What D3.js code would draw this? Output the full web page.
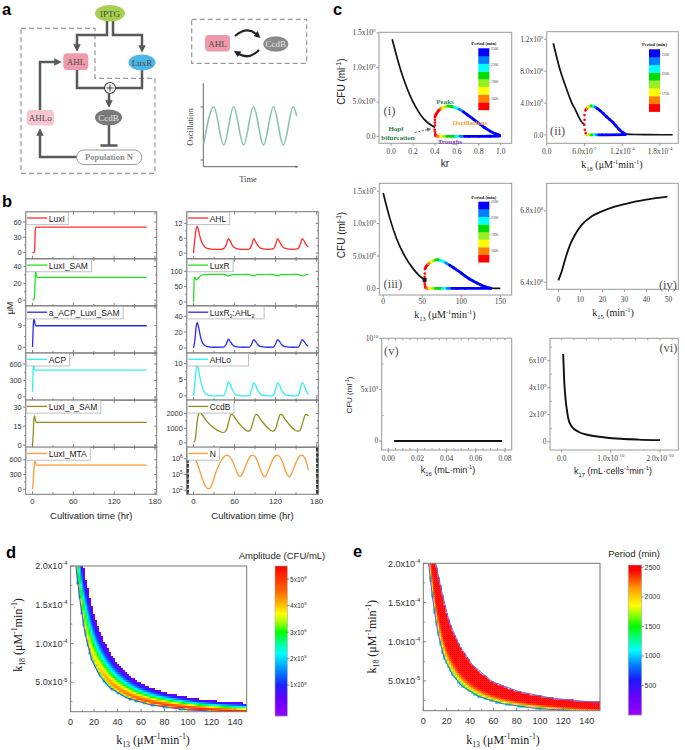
<!DOCTYPE html>
<html><head><meta charset="utf-8">
<script src="https://cdn.jsdelivr.net/npm/d3@7"></script>
<style>body{margin:0;background:#fff}svg{display:block}</style>
</head><body><svg id="fig" width="685" height="750"></svg>
<script>
// ================= DATA =================
// panel a schematic oscillation (schematic time units, relative level)
const oscT = [0, 0.5, 1, 1.5, 2, 2.5, 3, 3.5, 4, 4.5, 4.67];
const oscV = [0.04, 1, 0, 1, 0, 1, 0, 1, 0, 1, 0.75];

// panel b : [time (hr), value]
const bTimeTicks = [0, 30, 60, 90, 120, 150, 180];
const bTimeLabels = [0, 60, 120, 180];
const luxI = [[0,0],[2,0.5],[3,3],[3.6,25],[4.2,47],[5,50],[168,50]];
const luxI_SAM = [[0,0],[2,1],[3,5],[3.8,22],[4.5,36],[5.5,30],[7,27],[168,27]];
const aACP_LuxI_SAM = [[0,0],[0.6,5],[1.5,10.5],[2.5,12],[3.5,10],[5,9],[168,9]];
const ACP = [[0,90],[0.6,350],[1.2,630],[1.8,640],[2.6,510],[4,490],[168,490]];
const luxI_a_SAM = [[0,0],[1,8],[2,20],[3,23],[4,20.5],[5.5,18],[168,18]];
const luxI_MTA = [[0,0],[1,150],[2,400],[3,560],[4,570],[5,515],[7,490],[168,490]];
const AHL = [[0,0],[2,6],[4,10],[5.5,10.8],[7,9.5],[10,6],[14,3.3],[20,1.9],[30,1.5],[40,1.5],[45,2],[48,3.5],[51,5.8],[53,5.2],[57,3],[62,1.9],[70,1.5],[80,1.5],[83,2],[86,4],[88,5.8],[90,5],[94,3],[99,1.9],[110,1.5],[117,1.8],[120,3.5],[123,5.8],[125,5],[129,3],[134,1.9],[145,1.5],[153,1.8],[156,3.5],[159,5.8],[161,5.2],[165,3.2],[168,2.5]];
const LuxR = [[0,0],[0.5,40],[1,82],[2,80],[4,72],[6,75],[10,85],[15,89],[25,90],[45,90],[51,85],[56,89],[80,90],[88,85],[93,89],[115,90],[123,85],[128,89],[152,90],[160,85],[165,89],[168,90]];
const LuxR2AHL2 = [[0,0],[2,10],[4,28],[5.5,32],[7,28],[10,15],[14,5],[20,1.5],[30,0.8],[44,1],[48,5],[51,11],[53,9],[57,4],[62,1.5],[72,0.8],[82,1],[85,5],[88,10.5],[90,9],[94,4],[99,1.5],[110,0.8],[117,1],[120,5],[123,10.5],[125,9],[129,4],[134,1.5],[145,0.8],[153,1],[156,5],[159,10.5],[161,9],[165,4],[168,2]];
const AHLo = [[0,0],[2,4],[4,8.5],[5.5,9.5],[7,8.5],[10,5],[14,2],[20,0.3],[30,0],[44,0.1],[48,2],[51,4.3],[53,3.8],[57,1.8],[62,0.4],[72,0],[82,0.1],[85,2],[88,4.1],[90,3.6],[94,1.7],[99,0.4],[110,0],[117,0.1],[120,2],[123,4.1],[125,3.6],[129,1.7],[134,0.4],[145,0],[153,0.1],[156,2],[159,4.1],[161,3.7],[165,1.5],[168,0.5]];
const CcdB = [[0,50],[1.5,80],[3,400],[5,1300],[7,1900],[9,2080],[12,1950],[18,1550],[25,1200],[32,950],[38,780],[43,710],[46,740],[49,1000],[52,1550],[55,1930],[57,1920],[62,1600],[68,1250],[74,950],[79,800],[82,820],[85,1100],[88,1600],[91,1940],[93,1920],[98,1600],[104,1250],[110,960],[115,800],[118,820],[121,1100],[124,1600],[127,1930],[129,1930],[134,1600],[140,1250],[146,960],[152,800],[155,820],[158,1100],[161,1600],[164,1930],[166,1920],[168,1820]];
const popN = [[0,2.0e8],[3,6.3e7],[7,3.2e6],[12,3.2e4],[17,800],[21,200],[24,250],[28,3200],[33,3.2e5],[39,2e7],[44,2e8],[49,5e8],[53,2.5e8],[58,2e7],[62,8e5],[66,6.3e4],[68,4e4],[70,6.3e4],[74,8e5],[79,3.2e7],[84,4e8],[86,5e8],[90,2.5e8],[94,2.5e7],[98,8e5],[102,6.3e4],[104,4e4],[106,6.3e4],[110,1e6],[115,4e7],[120,4e8],[122,5e8],[126,2.5e8],[130,2.5e7],[134,8e5],[138,6.3e4],[140,4e4],[142,6.3e4],[146,1e6],[151,4e7],[156,4e8],[158,5e8],[162,2e8],[165,2.5e7],[168,6.3e5]];

// panel c : bifurcation data [param, CFU/ml] and oscillation branches [param, CFU/ml, period(min)]
const stable1 = [[0.01,1.41e9],[0.05,1.17e9],[0.1,0.9e9],[0.15,0.68e9],[0.2,0.5e9],[0.25,0.36e9],[0.3,0.25e9],[0.35,0.18e9],[0.4,0.13e9]];
const peaks1 = [[0.40,0.28e9,1480],[0.41,0.32e9,1490],[0.43,0.37e9,1510],[0.45,0.40e9,1540],[0.47,0.42e9,1620],[0.49,0.43e9,1750],[0.52,0.44e9,1880],[0.55,0.435e9,2000],[0.58,0.42e9,2060],[0.62,0.395e9,2160],[0.66,0.355e9,2300],[0.70,0.31e9,2400],[0.75,0.25e9,2450],[0.80,0.19e9,2470],[0.85,0.13e9,2480],[0.90,0.08e9,2490],[0.95,0.04e9,2500],[0.99,0.02e9,2500]];
const troughs1 = [[0.405,0.012e9,1480],[0.42,0.004e9,1500],[0.45,0.002e9,1580],[0.48,0.001e9,1700],[0.51,0.001e9,1850],[0.55,0.001e9,1990],[0.59,0.001e9,2080],[0.63,0.001e9,2180],[0.67,0.001e9,2300],[0.71,0.001e9,2400],[0.80,0.001e9,2450],[0.90,0.002e9,2490],[0.99,0.003e9,2500]];
const hopf1 = [[0.40,0.16e9],[0.40,0.20e9],[0.40,0.24e9],[0.398,0.10e9],[0.40,0.07e9],[0.402,0.04e9],[0.405,0.02e9]];
const stable2 = [[1.05e-5,1.15e9],[2e-5,0.85e9],[3e-5,0.61e9],[4e-5,0.4e9],[4.6e-5,0.31e9],[5e-5,0.24e9],[5.5e-5,0.17e9],[6e-5,0.125e9]];
const stable2b = [[1.25e-4,0.012e9],[1.4e-4,0.006e9],[1.6e-4,0.004e9],[2.0e-4,0.003e9]];
const peaks2 = [[6.16e-5,0.31e9,1480],[6.4e-5,0.335e9,1500],[6.6e-5,0.35e9,1600],[6.85e-5,0.36e9,1720],[7.1e-5,0.365e9,1840],[7.4e-5,0.36e9,1960],[7.7e-5,0.35e9,2080],[8.0e-5,0.335e9,2200],[8.4e-5,0.31e9,2300],[9e-5,0.27e9,2350],[9.5e-5,0.23e9,2370],[1.0e-4,0.195e9,2370],[1.05e-4,0.16e9,2370],[1.1e-4,0.115e9,2370],[1.15e-4,0.07e9,2370],[1.2e-4,0.035e9,2370],[1.25e-4,0.012e9,2370]];
const troughs2 = [[6.3e-5,0.012e9,1480],[6.5e-5,0.004e9,1560],[6.8e-5,0.002e9,1700],[7.1e-5,0.002e9,1820],[7.5e-5,0.002e9,1950],[7.9e-5,0.002e9,2080],[8.3e-5,0.002e9,2200],[8.8e-5,0.002e9,2300],[9.5e-5,0.002e9,2370],[1.25e-4,0.004e9,2370]];
const hopf2 = [[6.0e-5,0.25e9],[6.02e-5,0.19e9],[5.98e-5,0.13e9],[6.05e-5,0.065e9],[6.2e-5,0.025e9]];
const stable3 = [[0,1.47e9],[8.5,1.08e9],[17,0.77e9],[28,0.49e9],[38,0.31e9],[46,0.2e9],[53,0.135e9]];
const stable3b = [[138,0.004e9],[144,0.002e9],[150,0.001e9]];
const peaks3 = [[53.5,0.3e9,1450],[55,0.34e9,1480],[58,0.38e9,1520],[61,0.41e9,1600],[64,0.425e9,1750],[67,0.44e9,1880],[70,0.44e9,2000],[73,0.435e9,2050],[76,0.42e9,2120],[80,0.395e9,2200],[85,0.36e9,2300],[90,0.32e9,2400],[95,0.28e9,2450],[100,0.235e9,2480],[105,0.19e9,2490],[110,0.15e9,2500],[115,0.115e9,2500],[120,0.085e9,2500],[125,0.055e9,2500],[130,0.03e9,2500],[135,0.01e9,2500],[138,0.004e9,2500]];
const troughs3 = [[54,0.012e9,1450],[56,0.004e9,1500],[59,0.002e9,1600],[63,0.002e9,1740],[67,0.002e9,1880],[71,0.002e9,2000],[76,0.002e9,2050],[82,0.002e9,2150],[88,0.002e9,2280],[95,0.002e9,2400],[105,0.002e9,2480],[138,0.003e9,2500]];
const hopf3 = [[53,0.18e9],[53.3,0.23e9],[53,0.1e9],[53.3,0.065e9],[53.8,0.035e9]];
const curve4 = [[0,6.41e8],[1.5,6.46e8],[3,6.525e8],[5.3,6.609e8],[7.5,6.665e8],[10.5,6.72e8],[15,6.768e8],[19.5,6.796e8],[25.6,6.824e8],[33,6.847e8],[42,6.867e8],[49.6,6.88e8]];
const curve5 = [[0.004,0],[0.078,0]];
const curve6 = [[0.03e-10,6.5e9],[0.05e-10,4.6e9],[0.08e-10,3.1e9],[0.1e-10,2.5e9],[0.135e-10,1.7e9],[0.2e-10,1.15e9],[0.34e-10,0.74e9],[0.54e-10,0.5e9],[0.88e-10,0.32e9],[1.2e-10,0.22e9],[1.56e-10,0.16e9],[2.0e-10,0.12e9]];
const periodColors = ["#ff0000","#ff8000","#ffff00","#99ee22","#00dd00","#00ffff","#0080ff","#0000ff"];

// panels d & e : oscillation region boundaries [k13, k18], profiles across the band
const lowerBound = [[4.5,2.0e-4],[7.9,1.56e-4],[12.2,1.135e-4],[17.9,7.9e-5],[24.9,5.8e-5],[33.4,4.3e-5],[47.6,3.0e-5],[67.5,2.1e-5],[95.8,1.5e-5],[150,0.97e-5]];
const upperBound = [[10.7,2.0e-4],[15,1.69e-4],[22.1,1.26e-4],[30.6,9.6e-5],[42,7.06e-5],[59,4.92e-5],[81.7,3.64e-5],[110,2.8e-5],[138,2.4e-5],[150,2.3e-5]];
const ampAcross = [[0,0.35],[0.03,0.52],[0.08,0.75],[0.15,0.92],[0.22,1.0],[0.32,0.94],[0.45,0.8],[0.6,0.58],[0.75,0.36],[0.9,0.16],[1,0.05]];
const ampPeakAlong = [[5,3.1e8],[15,3.7e8],[30,4.2e8],[60,4.7e8],[100,5.1e8],[150,5.4e8]];
const periodAcross = [[0,900],[0.03,1300],[0.08,1600],[0.14,1850],[0.22,2100],[0.32,2300],[0.45,2450],[0.6,2520],[1,2540]];
const ampStops = [[-0.17e8,"#9400ff"],[0.5e8,"#6000ff"],[1.0e8,"#2020ff"],[1.5e8,"#0080ff"],[2.2e8,"#00ffff"],[2.6e8,"#00ff90"],[3.0e8,"#00ff00"],[3.4e8,"#b0ff00"],[3.7e8,"#ffff00"],[4.1e8,"#ffb000"],[4.6e8,"#ff6000"],[5.5e8,"#ff0000"]];
const periodStops = [[0,"#9900ff"],[300,"#6a00ff"],[600,"#1a1aff"],[850,"#0080ff"],[1100,"#00ffff"],[1500,"#00ff00"],[1850,"#ffff00"],[2150,"#ff9900"],[2450,"#ff0000"],[2540,"#ff0000"]];
const deXTicks = [0,20,40,60,80,100,120,140];
const deYTicks = [[5e-5,"5.0x10^{-5}"],[1e-4,"1.0x10^{-4}"],[1.5e-4,"1.5x10^{-4}"],[2e-4,"2.0x10^{-4}"]];
const ampBarTicks = [[1e8,"1x10^{8}"],[2e8,"2x10^{8}"],[3e8,"3x10^{8}"],[4e8,"4x10^{8}"],[5e8,"5x10^{8}"]];
const periodBarTicks = [[500,"500"],[1000,"1000"],[1500,"1500"],[2000,"2000"],[2500,"2500"]];

// ================= DRAWING =================
const svg = d3.select("#fig");
const SANS = "'Liberation Sans',Arial,Helvetica,sans-serif";
const SERIF = "'Liberation Serif','Times New Roman',Times,serif";
const defs = svg.append("defs");
let clipN = 0;
function clip(x0,y0,x1,y1){const id="cp"+(clipN++);defs.append("clipPath").attr("id",id).append("rect").attr("x",x0).attr("y",y0).attr("width",x1-x0).attr("height",y1-y0);return `url(#${id})`;}
function rich(g,str,o){
  const fs=o.size;
  const t=g.append("text").attr("x",o.x).attr("y",o.y).attr("font-size",fs).attr("font-family",o.family||SANS)
    .attr("text-anchor",o.anchor||"start").attr("fill",o.fill||"#222");
  if(o.weight) t.attr("font-weight",o.weight);
  if(o.rotate) t.attr("transform",`rotate(${o.rotate},${o.x},${o.y})`);
  const parts=str.split(/(\^\{[^}]*\}|_\{[^}]*\})/).filter(s=>s.length);
  let shift=0;
  parts.forEach(p=>{
    let txt=p,target=0,sz=null;
    if(p.startsWith("^{")){txt=p.slice(2,-1);target=-fs*0.42;sz=fs*0.65;}
    else if(p.startsWith("_{")){txt=p.slice(2,-1);target=fs*0.28;sz=fs*0.65;}
    const ts=t.append("tspan").text(txt).attr("dy",target-shift);
    if(sz) ts.attr("font-size",sz);
    shift=target;
  });
  return t;
}
function line(g,x1,y1,x2,y2,stroke,w){return g.append("line").attr("x1",x1).attr("y1",y1).attr("x2",x2).attr("y2",y2).attr("stroke",stroke).attr("stroke-width",w||1);}

// panel letters
[["a",2,15],["b",2,207],["c",333,15],["d",6,558],["e",353,557]].forEach(([l,x,y])=>
  svg.append("text").attr("x",x).attr("y",y).attr("font-family",SANS).attr("font-weight","bold").attr("font-size",16.5).text(l));

// ---------- Panel a ----------
(function(){
  const g=svg.append("g");
  const mk=(id,col)=>defs.append("marker").attr("id",id).attr("viewBox","0 0 10 10").attr("refX",1).attr("refY",5)
    .attr("markerWidth",3).attr("markerHeight",3).attr("orient","auto").append("path").attr("d","M0,0L10,5L0,10z").attr("fill",col);
  mk("arrG","#595959"); mk("arrK","#222");
  g.append("path").attr("d","M21,28.3H95V78.3H155V173.3H21Z").attr("fill","none").attr("stroke","#999").attr("stroke-width",1.2).attr("stroke-dasharray","5,3");
  const gl=(d,m)=>g.append("path").attr("d",d).attr("fill","none").attr("stroke","#595959").attr("stroke-width",2.5).attr("marker-end",m?"url(#arrG)":null);
  gl("M107,21V35H77V45",1); gl("M113,21V35H142V46",1);
  gl("M77,70V88H104",0); gl("M142,70V88H116",0);
  gl("M109,93.5V101",1);
  gl("M109,125V145",0); gl("M100.5,145.5H117.5",0);
  gl("M77,157H40V135",1); gl("M40,110V62H55",1);
  g.append("ellipse").attr("cx",110).attr("cy",13.3).attr("rx",15).attr("ry",8.3).attr("fill","#a6cf4f");
  g.append("rect").attr("x",63.3).attr("y",53.3).attr("width",25).attr("height",16.7).attr("rx",4).attr("fill","#ef9aab");
  g.append("ellipse").attr("cx",142).attr("cy",62.5).attr("rx",13.5).attr("ry",8).attr("fill","#4db5e6");
  g.append("circle").attr("cx",110).attr("cy",88).attr("r",5.5).attr("fill","#fff").attr("stroke","#444").attr("stroke-width",1.2);
  line(g,106.5,88,113.5,88,"#444",1.1); line(g,110,84.5,110,91.5,"#444",1.1);
  g.append("ellipse").attr("cx",108.5).attr("cy",117.5).attr("rx",13.5).attr("ry",8).attr("fill","#7a7a7a");
  g.append("rect").attr("x",26.7).attr("y",110).attr("width",27.3).attr("height",15.5).attr("rx",4).attr("fill","#f7c6cf");
  g.append("rect").attr("x",76.7).attr("y",150).attr("width",65).attr("height",14.5).attr("rx",7).attr("fill","#fff").attr("stroke","#9a9a9a").attr("stroke-width",1);
  const t=(s,x,y,o={})=>g.append("text").attr("x",x).attr("y",y).attr("text-anchor","middle").attr("font-family",SERIF)
    .attr("font-size",o.size||9).attr("fill",o.fill||"#4a4a4a").attr("font-weight",o.w||null).text(s);
  t("IPTG",110,16.5); t("AHL",76,64.8); t("LuxR",142,65.7); t("CcdB",108.5,120.8,{fill:"#e6e6e6"});
  t("AHLo",40.3,121); t("Population N",109,160.3,{fill:"#8a8a8a",w:"bold",size:8.5});
  // right schematic
  g.append("rect").attr("x",191.7).attr("y",19.3).attr("width",115).attr("height",44).attr("fill","none").attr("stroke","#999").attr("stroke-width",1.2).attr("stroke-dasharray","5,3");
  g.append("rect").attr("x",205).attr("y",35).attr("width",25).attr("height",16.5).attr("rx",4).attr("fill","#ef9aab");
  g.append("ellipse").attr("cx",275.8).attr("cy",44).attr("rx",12.5).attr("ry",7.8).attr("fill","#8a8a8a");
  t("AHL",217.5,46.5); t("CcdB",275.8,47.3,{fill:"#e6e6e6"});
  g.append("path").attr("d","M235,36Q247,26 256,34").attr("fill","none").attr("stroke","#222").attr("stroke-width",2.2).attr("marker-end","url(#arrK)");
  g.append("path").attr("d","M259,50Q249,60 239,54").attr("fill","none").attr("stroke","#222").attr("stroke-width",2.2).attr("marker-end","url(#arrK)");
  // oscillation sketch
  const xo=d3.scaleLinear().domain([0,4.67]).range([203.8,296.7]);
  const yo=d3.scaleLinear().domain([0,1]).range([145,106.7]);
  line(g,203.3,83.3,203.3,166.7,"#666",1); line(g,203.3,166.7,296.7,166.7,"#666",1);
  g.append("path").attr("d","M298.5,166.7l-3,-1.3v2.6z").attr("fill","#666");
  line(g,200.5,107,203.3,107,"#666",1); line(g,200.5,160,203.3,160,"#666",1);
  g.append("path").datum(d3.zip(oscT,oscV)).attr("fill","none").attr("stroke","#86c4ad").attr("stroke-width",1.6)
    .attr("d",d3.line().x(d=>xo(d[0])).y(d=>yo(d[1])).curve(d3.curveMonotoneX));
  g.append("text").attr("transform","rotate(-90,193,127)").attr("x",193).attr("y",127).attr("text-anchor","middle").attr("font-family",SERIF).attr("font-size",8.5).attr("fill","#444").text("Oscillation");
  t("Time",248,182,{size:8.5,fill:"#444"});
})();

// ---------- Panel b ----------
const xL=d3.scaleLinear().domain([-10,182.5]).range([25.7,156.7]);
const xR=d3.scaleLinear().domain([-10,182.5]).range([186.7,318.3]);
const B_TOP=211.7, B_H=47.1;
const bLeft=[
 {name:"LuxI",color:"#ff2a2a",data:luxI,domain:[-12,80],ticks:[0,30,60]},
 {name:"LuxI_SAM",color:"#22e022",data:luxI_SAM,domain:[-6.7,49],ticks:[0,20,40]},
 {name:"a_ACP_LuxI_SAM",color:"#2a2aee",data:aACP_LuxI_SAM,domain:[-2.4,17.3],ticks:[0,9]},
 {name:"ACP",color:"#30f0f0",data:ACP,domain:[-61,803],ticks:[0,300,600]},
 {name:"LuxI_a_SAM",color:"#8f8f1f",data:luxI_a_SAM,domain:[-1.6,35.5],ticks:[0,15,30]},
 {name:"LuxI_MTA",color:"#ff9a30",data:luxI_MTA,domain:[-101,856],ticks:[0,300,600]}];
const bRight=[
 {name:"AHL",color:"#ff2a2a",data:AHL,domain:[-2.3,16.7],ticks:[0,6,12]},
 {name:"LuxR",color:"#22e022",data:LuxR,domain:[-13,141],ticks:[0,50,100]},
 {name:"LuxR_{2}:AHL_{2}",color:"#2a2aee",data:LuxR2AHL2,domain:[-6.5,53.4],ticks:[0,20,40],pad:6},
 {name:"AHLo",color:"#30f0f0",data:AHLo,domain:[-1.3,13.2],ticks:[0,5,10],pad:14},
 {name:"CcdB",color:"#8f8f1f",data:CcdB,domain:[-293,2911],ticks:[0,1000,2000]},
 {name:"N",color:"#ff9a30",data:popN,domain:[17,1.6e10],ticks:[1e2,1e5,1e8],log:true,tickLab:["10^{2}","10^{5}","10^{8}"]}];
function bPanel(s,col,row){
  const x=col?xR:xL; const [x0,x1]=x.range();
  const top=B_TOP+row*B_H, bot=top+B_H;
  const y=(s.log?d3.scaleLog():d3.scaleLinear()).domain(s.domain).range([bot,top]);
  const g=svg.append("g");
  g.append("path").datum(s.data).attr("clip-path",clip(x0,top,x1,bot)).attr("fill","none").attr("stroke",s.color).attr("stroke-width",1.3)
    .attr("d",d3.line().x(d=>x(d[0])).y(d=>y(d[1])).curve(d3.curveMonotoneX));
  bTimeTicks.forEach(t=>{const xx=x(t),l=t%60===0?3:2; line(g,xx,top,xx,top+l,"#666",0.8); line(g,xx,bot,xx,bot-l,"#666",0.8);});
  s.ticks.forEach((v,i)=>{const yy=y(v); line(g,x0-2.5,yy,x0,yy,"#555",0.8); line(g,x1-2.5,yy,x1,yy,"#555",0.8);
    rich(g,s.tickLab?s.tickLab[i]:String(v),{x:x0-4,y:yy+2.6,size:7.3,anchor:"end",fill:"#333"});});
  if(s.log){
    for(let k=1;k<=10;k++) for(let m=2;m<=9;m++){const v=m*Math.pow(10,k); if(v<s.domain[0]||v>s.domain[1]) continue;
      const yy=y(v); line(g,x0,yy,x0+2,yy,"#222",0.9); line(g,x1-2,yy,x1,yy,"#222",0.9);}
  } else {
    for(let i=0;i<s.ticks.length-1;i++){const v=(s.ticks[i]+s.ticks[i+1])/2, yy=y(v); line(g,x0-1.5,yy,x0,yy,"#555",0.8); line(g,x1-1.5,yy,x1,yy,"#555",0.8);}
  }
  g.append("rect").attr("x",x0).attr("y",top).attr("width",x1-x0).attr("height",B_H).attr("fill","none").attr("stroke","#777").attr("stroke-width",1);
  // legend
  const lg=g.append("g");
  const box=lg.append("rect").attr("x",x0+0.5).attr("y",top+0.5).attr("height",12.5).attr("fill","#fff").attr("stroke","#b0b0b0").attr("stroke-width",0.8);
  line(lg,x0+1.5,top+6.3,x0+21.5,top+6.3,s.color,1.3);
  const tx=rich(lg,s.name,{x:x0+23,y:top+9.8,size:8.5,fill:"#222"});
  const w=tx.node().getComputedTextLength();
  box.attr("width",23+w+3+(s.pad||0));
  if(row===5){bTimeLabels.forEach(t=>g.append("text").attr("x",x(t)).attr("y",bot+10).attr("text-anchor","middle").attr("font-family",SANS).attr("font-size",7.8).attr("fill","#333").text(t));
    g.append("text").attr("x",(x0+x1)/2).attr("y",518.5).attr("text-anchor","middle").attr("font-family",SANS).attr("font-size",9.5).attr("fill","#222").text("Cultivation time (hr)");}
}
bLeft.forEach((s,i)=>bPanel(s,0,i));
bRight.forEach((s,i)=>bPanel(s,1,i));
svg.append("text").attr("transform","rotate(-90,13,308)").attr("x",13).attr("y",308).attr("text-anchor","middle").attr("font-family",SANS).attr("font-size",9).attr("fill","#222").text("μM");

// ---------- Panel c ----------
function cPanel(o){
  const x=d3.scaleLinear().domain(o.xd).range([o.x0,o.x1]);
  const y=d3.scaleLinear().domain(o.yd).range([o.y1,o.y0]);
  const g=svg.append("g");
  o.xt.forEach(([v,l])=>{const xx=x(v); line(g,xx,o.y1,xx,o.y1+2.5,"#888",0.9);
    rich(g,l,{x:xx,y:o.xly,size:7.5,family:SERIF,anchor:"middle",fill:"#444"});});
  o.yt.forEach(([v,l])=>{const yy=y(v); line(g,o.x0-2.5,yy,o.x0,yy,"#888",0.9);
    rich(g,l,{x:o.x0-3.5,y:yy+2.5,size:7.5,family:SERIF,anchor:"end",fill:"#444"});});
  if(o.minorX) o.minorX.forEach(v=>{const xx=x(v); line(g,xx,o.y0,xx,o.y0+2,"#888",0.8); if(o.minorBottom) line(g,xx,o.y1,xx,o.y1-2,"#888",0.8);});
  if(o.minorY) o.minorY.forEach(v=>{const yy=y(v); line(g,o.x0,yy,o.x0+2,yy,"#888",0.8);});
  g.append("rect").attr("x",o.x0).attr("y",o.y0).attr("width",o.x1-o.x0).attr("height",o.y1-o.y0).attr("fill","none").attr("stroke","#9a9a9a").attr("stroke-width",1);
  return {g,x,y,cp:clip(o.x0,o.y0,o.x1,o.y1)};
}
const lineGen=(x,y,c)=>d3.line().x(d=>x(d[0])).y(d=>y(d[1])).curve(c||d3.curveMonotoneX);
function blackCurve(P,data,w){P.g.append("path").datum(data).attr("clip-path",P.cp).attr("fill","none").attr("stroke","#111").attr("stroke-width",w||1.7).attr("d",lineGen(P.x,P.y));}
function branch(P,pts,col){
  P.g.append("g").selectAll("line").data(d3.pairs(pts)).join("line")
    .attr("x1",d=>P.x(d[0][0])).attr("y1",d=>P.y(d[0][1])).attr("x2",d=>P.x(d[1][0])).attr("y2",d=>P.y(d[1][1]))
    .attr("stroke",d=>col(d[1][2])).attr("stroke-width",2.8).attr("stroke-linecap","round");
}
function dots(P,pts){P.g.append("g").selectAll("circle").data(pts).join("circle").attr("cx",d=>P.x(d[0])).attr("cy",d=>P.y(d[1])).attr("r",1.35).attr("fill","#ff1010");}
function periodBar(P,o){
  const ys=d3.scaleLinear().domain([o.top,o.bottom]).range([o.y0,o.y1]);
  const th=d3.range(1,8).map(k=>o.bottom+k*(o.top-o.bottom)/8);
  const bounds=[o.bottom,...th,o.top];
  for(let k=0;k<8;k++) P.g.append("rect").attr("x",o.x0).attr("y",ys(bounds[k+1])).attr("width",o.x1-o.x0).attr("height",ys(bounds[k])-ys(bounds[k+1])+0.2).attr("fill",periodColors[k]);
  o.labels.forEach(v=>{const yy=ys(v); line(P.g,o.x1,yy,o.x1+1,yy,"#555",0.5);
    P.g.append("text").attr("x",o.x1+1.8).attr("y",yy+1.2).attr("font-family",SERIF).attr("font-size",3.6).attr("fill","#333").text(v);});
  P.g.append("text").attr("x",(o.x0+o.x1)/2).attr("y",o.y0-3).attr("text-anchor","middle").attr("font-family",SERIF).attr("font-weight","bold").attr("font-size",4.6).attr("fill","#222").text("Period (min)");
  return d3.scaleThreshold().domain(th).range(periodColors);
}
const romanLab=(P,s,x,y,anchor)=>P.g.append("text").attr("x",x).attr("y",y).attr("text-anchor",anchor||"start").attr("font-family",SERIF).attr("font-size",12.5).attr("fill","#555").text(s);
const cfuLabel=(x,y,size)=>rich(svg,"CFU (ml^{-1})",{x:x,y:y,size:size,anchor:"middle",rotate:-90,fill:"#222"});

// (i)
(function(){
  const P=cPanel({x0:379,x1:511.7,y0:32.3,y1:143.3,xd:[-0.11,1.1],yd:[-0.1e9,1.51e9],xly:153.5,
    xt:[[0,"0.0"],[0.2,"0.2"],[0.4,"0.4"],[0.6,"0.6"],[0.8,"0.8"],[1,"1.0"]],
    yt:[[0,"0.0"],[5e8,"5.0x10^{8}"],[1e9,"1.0x10^{9}"],[1.5e9,"1.5x10^{9}"]]});
  const col=periodBar(P,{x0:478.3,x1:489.3,y0:48.3,y1:110,top:2500,bottom:1410,labels:[2500,2200,1900,1600]});
  blackCurve(P,stable1);
  branch(P,troughs1,col); branch(P,peaks1,col); dots(P,hopf1);
  romanLab(P,"(i)",383.5,115);
  const tt=(s,x,y,c)=>P.g.append("text").attr("x",x).attr("y",y).attr("text-anchor","middle").attr("font-family",SERIF).attr("font-weight","bold").attr("font-size",7).attr("fill",c).text(s);
  tt("Peaks",445,104,"#2e8b57"); tt("Oscillations",470,125,"#f0a030"); tt("Hopf",396,130.5,"#2e7d4f"); tt("bifurcation",398,139.5,"#2e7d4f"); tt("Troughs",450,143.5,"#7b3fb0");
  P.g.append("path").attr("d","M415,132.5L427,129.8").attr("stroke","#666").attr("stroke-width",1).attr("stroke-dasharray","2,1.5");
  P.g.append("path").attr("d","M431.5,129L426.5,127.6L427.5,131.6Z").attr("fill","#666");
  P.g.append("text").attr("x",445).attr("y",167).attr("text-anchor","middle").attr("font-family",SANS).attr("font-size",10).attr("fill","#222").text("kr");
  cfuLabel(345,81.7,10);
})();
// (ii)
(function(){
  const P=cPanel({x0:546.7,x1:678.3,y0:31.7,y1:143.3,xd:[0,2.09e-4],yd:[-1.04e8,1.295e9],xly:153.5,
    xt:[[0,"0.0"],[6e-5,"6.0x10^{-5}"],[1.2e-4,"1.2x10^{-4}"],[1.8e-4,"1.8x10^{-4}"]],
    yt:[[0,"0.0"],[4e8,"4.0x10^{8}"],[8e8,"8.0x10^{8}"],[1.2e9,"1.2x10^{9}"]]});
  const col=periodBar(P,{x0:649,x1:660,y0:49.3,y1:111.7,top:2377,bottom:1417,labels:[2300,2000,1700]});
  blackCurve(P,stable2); blackCurve(P,stable2b);
  branch(P,troughs2,col); branch(P,peaks2,col); dots(P,hopf2);
  romanLab(P,"(ii)",550,135);
  rich(svg,"k_{18} (μM^{-1}min^{-1})",{x:612,y:168,size:10,family:SERIF,anchor:"middle",fill:"#222"});
})();
// (iii)
(function(){
  const P=cPanel({x0:379.3,x1:511.7,y0:183.3,y1:295,xd:[-5,164.5],yd:[-0.1e9,1.62e9],xly:304,
    xt:[[0,"0"],[50,"50"],[100,"100"],[150,"150"]],
    yt:[[0,"0.0"],[5e8,"5.0x10^{8}"],[1e9,"1.0x10^{9}"],[1.5e9,"1.5x10^{9}"]]});
  const col=periodBar(P,{x0:478.3,x1:489.3,y0:201.7,y1:262.3,top:2500,bottom:1393,labels:[2500,2200,1900,1600]});
  blackCurve(P,stable3); blackCurve(P,stable3b);
  branch(P,troughs3,col); branch(P,peaks3,col); dots(P,hopf3);
  P.g.append("rect").attr("x",P.x(53)-2).attr("y",P.y(0.135e9)-2).attr("width",4).attr("height",4).attr("fill","#111");
  romanLab(P,"(iii)",383.5,288);
  rich(svg,"k_{13} (μM^{-1}min^{-1})",{x:445,y:318,size:10,family:SERIF,anchor:"middle",fill:"#222"});
  cfuLabel(345,235,10);
})();
// (iv)
(function(){
  const P=cPanel({x0:546.7,x1:678.3,y0:183.3,y1:289.3,xd:[-5.3,54.5],yd:[6.36e8,6.955e8],xly:301.5,
    xt:[[0,"0"],[10,"10"],[20,"20"],[30,"30"],[40,"40"],[50,"50"]],
    yt:[[6.4e8,"6.4x10^{8}"],[6.8e8,"6.8x10^{8}"]]});
  blackCurve(P,curve4,1.8);
  romanLab(P,"(iv)",677,288.5,"end");
  rich(svg,"k_{15} (min^{-1})",{x:613,y:316,size:10,family:SERIF,anchor:"middle",fill:"#222"});
})();
// (v)
(function(){
  const P=cPanel({x0:381.7,x1:511.7,y0:338.3,y1:450,xd:[-0.0045,0.0846],yd:[-0.088e10,1.0e10],xly:460.5,
    xt:[[0,"0.00"],[0.02,"0.02"],[0.04,"0.04"],[0.06,"0.06"],[0.08,"0.08"]],
    yt:[[0,"0"],[5e9,"5x10^{9}"],[1e10,"10^{10}"]],
    minorX:d3.range(0,0.085,0.005),minorBottom:true,minorY:[2.5e9,7.5e9]});
  blackCurve(P,curve5,2);
  romanLab(P,"(v)",384,355);
  rich(svg,"k_{16} (mL·min^{-1})",{x:448,y:473,size:9,anchor:"middle",fill:"#222"});
  cfuLabel(352,395,8);
})();
// (vi)
(function(){
  const P=cPanel({x0:550,x1:678.3,y0:338.3,y1:450,xd:[-0.238e-10,2.372e-10],yd:[-0.61e9,7.66e9],xly:460.5,
    xt:[[0,"0.0"],[1e-10,"1.0x10^{-10}"],[2e-10,"2.0x10^{-10}"]],
    yt:[[0,"0"],[2e9,"2x10^{9}"],[4e9,"4x10^{9}"],[6e9,"6x10^{9}"]],
    minorX:d3.range(0,2.3e-10,0.25e-10),minorY:[1e9,3e9,5e9,7e9]});
  blackCurve(P,curve6,1.9);
  romanLab(P,"(vi)",677.5,351.7,"end");
  rich(svg,"k_{17} (mL·cells^{-1}min^{-1})",{x:613,y:474,size:9,anchor:"middle",fill:"#222"});
})();

// ---------- Panels d & e ----------
const lowS=d3.scaleLinear().domain(lowerBound.map(d=>Math.log(d[0]))).range(lowerBound.map(d=>Math.log(d[1])));
const highS=d3.scaleLinear().domain(upperBound.map(d=>Math.log(d[0]))).range(upperBound.map(d=>Math.log(d[1])));
const ampShapeS=d3.scaleLinear().domain(ampAcross.map(d=>d[0])).range(ampAcross.map(d=>d[1])).clamp(true);
const ampPeakS=d3.scaleLinear().domain(ampPeakAlong.map(d=>d[0])).range(ampPeakAlong.map(d=>d[1])).clamp(true);
const perShapeS=d3.scaleLinear().domain(periodAcross.map(d=>d[0])).range(periodAcross.map(d=>d[1])).clamp(true);
const ampColor=d3.scaleLinear().domain(ampStops.map(d=>d[0])).range(ampStops.map(d=>d[1])).clamp(true);
const perColor=d3.scaleLinear().domain(periodStops.map(d=>d[0])).range(periodStops.map(d=>d[1])).clamp(true);

function dePanel(o){
  const x=d3.scaleLinear().domain([0,o.xmax]).range([o.x0,o.x1]);
  const y=d3.scaleLinear().domain([1.2e-5,2e-4]).range([o.y1,o.y0]);
  const g=svg.append("g");
  const cp=clip(o.x0,o.y0,o.x1,o.y1);
  const cells=[], step=2;
  for(let px=o.x0;px<o.x1;px+=step) for(let py=o.y0;py<o.y1;py+=step){
    const k13=x.invert(px+step/2), k18=y.invert(py+step/2);
    if(k13<=0||k18<=0) continue;
    const lk=Math.log(k13), lo=lowS(lk), hi=highS(lk);
    const u=(Math.log(k18)-lo)/(hi-lo);
    if(u<0||u>1) continue;
    cells.push([px,py,o.value(u,k13)]);
  }
  g.append("g").attr("clip-path",cp).selectAll("rect").data(cells).join("rect")
    .attr("x",d=>d[0]).attr("y",d=>d[1]).attr("width",step+0.4).attr("height",step+0.4).attr("fill",d=>o.color(d[2]));
  const bl=d3.line().x(d=>x(d[0])).y(d=>y(d[1]));
  o.edges.forEach(([arr,c])=>g.append("path").datum(arr).attr("clip-path",cp).attr("fill","none").attr("stroke",c).attr("stroke-width",1).attr("d",bl));
  // ticks
  deXTicks.forEach(v=>{const xx=x(v); line(g,xx,o.y1,xx,o.y1-3,"#777",0.9);
    g.append("text").attr("x",xx).attr("y",o.y1+13.5).attr("text-anchor","middle").attr("font-family",SANS).attr("font-size",9).attr("fill","#333").text(v);});
  d3.range(10,150,20).forEach(v=>{const xx=x(v); line(g,xx,o.y1,xx,o.y1-1.8,"#777",0.8);});
  deYTicks.forEach(([v,l])=>{const yy=y(v); line(g,o.x0,yy,o.x0+3,yy,"#777",0.9);
    rich(g,l,{x:o.x0-3,y:yy+3.2,size:9,anchor:"end",fill:"#333"});});
  [2.5e-5,7.5e-5,1.25e-4,1.75e-4].forEach(v=>{const yy=y(v); line(g,o.x0,yy,o.x0+1.8,yy,"#777",0.8);});
  g.append("rect").attr("x",o.x0).attr("y",o.y0).attr("width",o.x1-o.x0).attr("height",o.y1-o.y0).attr("fill","none").attr("stroke","#777").attr("stroke-width",1);
  rich(svg,"k_{13} (μM^{-1}min^{-1})",{x:o.xlx,y:o.xly,size:12,family:SERIF,anchor:"middle",fill:"#222"});
  rich(svg,"k_{18} (μM^{-1}min^{-1})",{x:o.ylx,y:o.yly,size:12,family:SERIF,anchor:"middle",rotate:-90,fill:"#222"});
  // colorbar
  const cb=o.bar;
  const ys=d3.scaleLinear().domain([cb.top,cb.bottom]).range([cb.y0,cb.y1]);
  const slices=d3.range(cb.y0,cb.y1,1);
  g.append("g").selectAll("rect").data(slices).join("rect").attr("x",cb.x0).attr("y",d=>d).attr("width",cb.x1-cb.x0).attr("height",1.2)
    .attr("fill",d=>o.color(ys.invert(d+0.5)));
  g.append("rect").attr("x",cb.x0).attr("y",cb.y0).attr("width",cb.x1-cb.x0).attr("height",cb.y1-cb.y0).attr("fill","none").attr("stroke","#aaa").attr("stroke-width",0.6);
  cb.ticks.forEach(([v,l])=>{const yy=ys(v); line(g,cb.x1,yy,cb.x1+2,yy,"#555",0.7);
    rich(g,l,{x:cb.x1+2.8,y:yy+2.4,size:cb.fs,anchor:"start",fill:"#333"});});
  g.append("text").attr("x",cb.tx).attr("y",cb.ty).attr("text-anchor","middle").attr("font-family",SANS).attr("font-size",cb.tfs).attr("fill","#222").text(cb.title);
}
dePanel({x0:70.6,x1:246.7,y0:566,y1:711.7,xmax:150,
  value:(u,k13)=>ampShapeS(u)*ampPeakS(k13), color:ampColor,
  edges:[[lowerBound,"#7a2cf0"]],
  xlx:153,xly:744,ylx:22,yly:635,
  bar:{x0:275,x1:287.3,y0:566,y1:716,top:5.5e8,bottom:-0.17e8,ticks:ampBarTicks,fs:6.5,title:"Amplitude (CFU/mL)",tx:282,ty:559,tfs:9.5}});
dePanel({x0:423.3,x1:600,y0:563.3,y1:710.7,xmax:151.4,
  value:(u)=>perShapeS(u), color:perColor,
  edges:[[lowerBound,"#5058ff"],[upperBound,"#6a6aff"]],
  xlx:503,xly:744,ylx:376,yly:636.7,
  bar:{x0:628.3,x1:641.7,y0:565,y1:715,top:2540,bottom:0,ticks:periodBarTicks,fs:7,title:"Period (min)",tx:634,ty:557,tfs:9.5}});
</script></body></html>
